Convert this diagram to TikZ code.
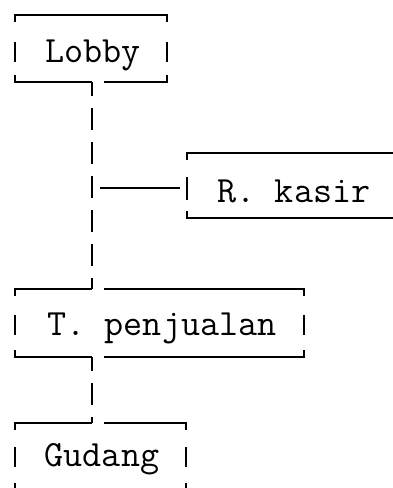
\documentclass[tikz,border=0pt]{standalone}
\begin{document}
\begin{tikzpicture}[x=1pt,y=-1pt,
  boxline/.style={line width=1.8pt},
  conn/.style={line width=1.8pt, dash pattern=on 22pt off 12pt, dash phase=8pt},
  lbl/.style={font=\fontsize{37}{40}\selectfont\ttfamily, inner sep=0pt, anchor=base}]
\clip (0,0) rectangle (393,488);
% labels
\node[lbl] (lobby) at (93,62) {Lobby};
\node[lbl] (kasir) at (294,202) {R. kasir};
\node[lbl] (penj) at (162,335) {T. penjualan};
\node[lbl] (gudang) at (102,466) {Gudang};
% Lobby box
\draw[boxline] (15,22) -- (15,15) -- (167,15) -- (167,22);
\draw[boxline] (15,75) -- (15,82) -- (92,82);
\draw[boxline] (104,82) -- (167,82) -- (167,75);
\draw[boxline] (15,42) -- (15,62);
\draw[boxline] (167,42) -- (167,62);
% R. kasir box
\draw[boxline] (187,160) -- (187,153) -- (400,153);
\draw[boxline] (187,211) -- (187,218) -- (400,218);
\draw[boxline] (187,177) -- (187,200);
% T. penjualan box
\draw[boxline] (15,296) -- (15,289) -- (92,289);
\draw[boxline] (104,289) -- (304,289) -- (304,296);
\draw[boxline] (15,350) -- (15,357) -- (92,357);
\draw[boxline] (104,357) -- (304,357) -- (304,350);
\draw[boxline] (15,315) -- (15,335);
\draw[boxline] (304,315) -- (304,335);
% Gudang box
\draw[boxline] (15,430) -- (15,423) -- (92,423);
\draw[boxline] (104,423) -- (186,423) -- (186,430);
\draw[boxline] (15,447) -- (15,467);
\draw[boxline] (186,447) -- (186,467);
\draw[boxline] (15,483) -- (15,490) -- (186,490) -- (186,483);
% connectors
\coordinate (lobbyS) at (92,82);
\coordinate (penjN) at (92,289);
\coordinate (penjS) at (92,357);
\coordinate (gudangN) at (92,423);
\coordinate (hstart) at (100,188);
\coordinate (kasirW) at (180,188);
\draw[conn] (lobbyS) -- (penjN);
\draw[conn] (penjS) -- (gudangN);
\draw[boxline] (hstart) -- (kasirW);
\end{tikzpicture}
\end{document}
